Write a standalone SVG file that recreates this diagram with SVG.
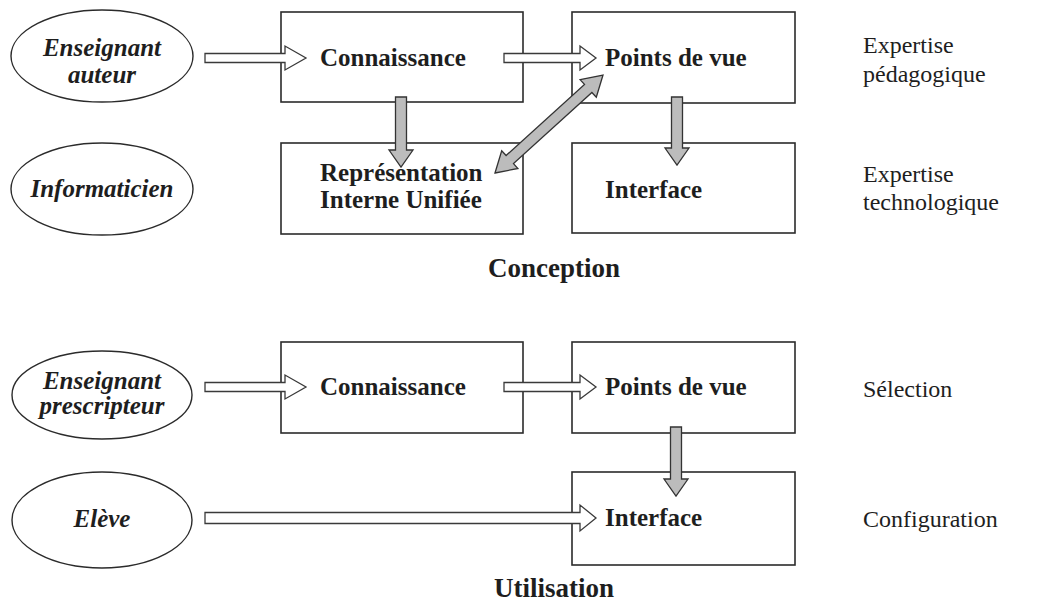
<svg xmlns="http://www.w3.org/2000/svg" width="1044" height="607" viewBox="0 0 1044 607">
<style>
.bg{fill:#ffffff}
.box{fill:none;stroke:#2b2b2b;stroke-width:1.6}
.ell{fill:none;stroke:#2b2b2b;stroke-width:1.4}
.t{font-family:"Liberation Serif","Times New Roman",serif;fill:#1e1e1e}
.b{font-weight:bold;font-size:25px}
.bi{font-weight:bold;font-style:italic;font-size:25px}
.r{font-size:24px}
.h{font-weight:bold;font-size:27px}
.hollow{fill:#ffffff;stroke:#3a3a3a;stroke-width:1.3}
.gray{fill:#bcbcbc;stroke:#333333;stroke-width:1.3}
</style>
<rect class="bg" x="0" y="0" width="1044" height="607"/>

<g id="actor-enseignant-auteur">
<ellipse class="ell" cx="102" cy="56" rx="91" ry="46"/>
<text class="t bi" x="102" y="56" text-anchor="middle">Enseignant</text>
<text class="t bi" x="102" y="83" text-anchor="middle">auteur</text>
</g>
<g id="actor-informaticien">
<ellipse class="ell" cx="102" cy="189" rx="91" ry="46"/>
<text class="t bi" x="102" y="197" text-anchor="middle">Informaticien</text>
</g>
<g id="box-connaissance-1">
<rect class="box" x="281" y="12" width="242" height="90"/>
<text class="t b" x="320" y="66">Connaissance</text>
</g>
<g id="box-points-1">
<rect class="box" x="572" y="12" width="223" height="91"/>
<text class="t b" x="605" y="66">Points de vue</text>
</g>
<g id="box-representation">
<rect class="box" x="281" y="143" width="242" height="91"/>
<text class="t b" x="320" y="181">Représentation</text>
<text class="t b" x="320" y="208">Interne Unifiée</text>
</g>
<g id="box-interface-1">
<rect class="box" x="572" y="143" width="223" height="90"/>
<text class="t b" x="605" y="198">Interface</text>
</g>
<g id="label-expertise-pedagogique">
<text class="t r" x="863" y="53">Expertise</text>
<text class="t r" x="863" y="82">pédagogique</text>
</g>
<g id="label-expertise-technologique">
<text class="t r" x="863" y="182">Expertise</text>
<text class="t r" x="863" y="210">technologique</text>
</g>
<g id="title-conception">
<text class="t h" x="554" y="277" text-anchor="middle">Conception</text>
</g>

<g id="actor-enseignant-prescripteur">
<ellipse class="ell" cx="102" cy="395" rx="90" ry="44"/>
<text class="t bi" x="102" y="389" text-anchor="middle">Enseignant</text>
<text class="t bi" x="102" y="414" text-anchor="middle">prescripteur</text>
</g>
<g id="actor-eleve">
<ellipse class="ell" cx="102" cy="520" rx="90" ry="48"/>
<text class="t bi" x="102" y="527" text-anchor="middle">Elève</text>
</g>
<g id="box-connaissance-2">
<rect class="box" x="281" y="342" width="242" height="91"/>
<text class="t b" x="320" y="395">Connaissance</text>
</g>
<g id="box-points-2">
<rect class="box" x="572" y="342" width="223" height="91"/>
<text class="t b" x="605" y="395">Points de vue</text>
</g>
<g id="box-interface-2">
<rect class="box" x="572" y="472" width="223" height="93"/>
<text class="t b" x="605" y="526">Interface</text>
</g>
<g id="label-selection">
<text class="t r" x="863" y="397">Sélection</text>
</g>
<g id="label-configuration">
<text class="t r" x="863" y="527">Configuration</text>
</g>
<g id="title-utilisation">
<text class="t h" x="554" y="597" text-anchor="middle">Utilisation</text>
</g>

<g id="connectors">
<polygon class="hollow" points="205,53.5 285,53.5 285,46 306,58 285,70 285,62.5 205,62.5"/>
<polygon class="hollow" points="504,53.5 580,53.5 580,46 596,58 580,70 580,62.5 504,62.5"/>
<polygon class="gray" points="395.5,97 406.5,97 406.5,150 413,150 401,167 389,150 395.5,150"/>
<polygon class="gray" points="671.5,97 682.5,97 682.5,148 689,148 677,165 665,148 671.5,148"/>
<polygon class="gray" points="495,173 517.9,168.5 513.5,163.6 591.9,92.5 596.3,97.3 603,75 580.1,79.6 584.5,84.4 506.1,155.5 501.7,150.7"/>
<polygon class="hollow" points="205,382.5 285,382.5 285,375 306,387 285,399 285,391.5 205,391.5"/>
<polygon class="hollow" points="504,382.5 580,382.5 580,375 596,387 580,399 580,391.5 504,391.5"/>
<polygon class="gray" points="670.5,427 681.5,427 681.5,479 688,479 676,496 664,479 670.5,479"/>
<polygon class="hollow" points="205,512.5 580,512.5 580,505 596,518 580,531 580,523.5 205,523.5"/>
</g>
</svg>
